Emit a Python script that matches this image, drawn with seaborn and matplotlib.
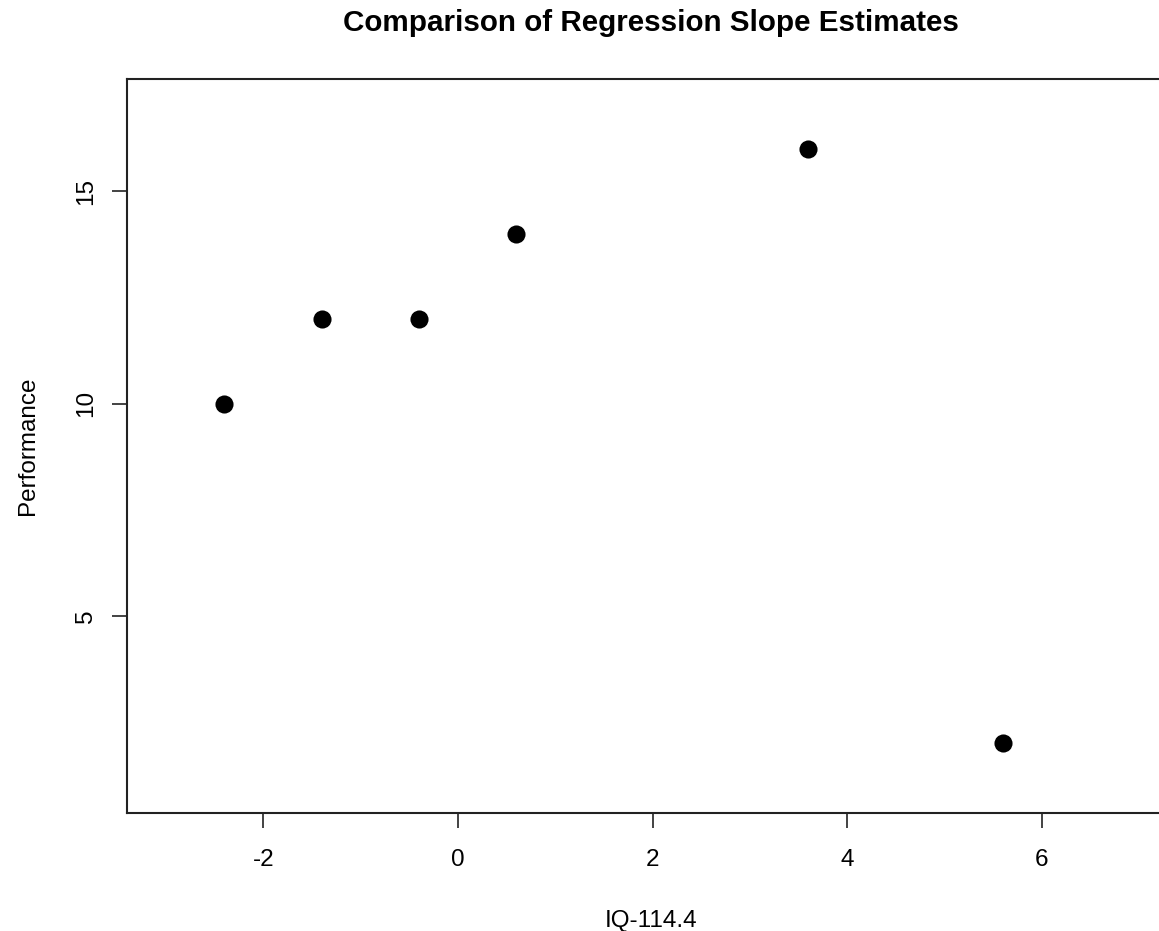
import matplotlib
matplotlib.use("Agg")
import matplotlib.pyplot as plt
import seaborn as sns
import pandas as pd

iq_centered = [-2.4, -1.4, -0.4, 0.6, 3.6, 5.6]
performance = [10, 12, 12, 14, 16, 2]
x_ticks = [-2, 0, 2, 4, 6]
y_ticks = [5, 10, 15]

sns.set_style("white")
plt.rcParams['font.family'] = ['Liberation Sans', 'DejaVu Sans']
plt.rcParams['text.color'] = 'black'
plt.rcParams['axes.labelcolor'] = 'black'
plt.rcParams['xtick.color'] = 'black'
plt.rcParams['ytick.color'] = 'black'

df = pd.DataFrame({"x": iq_centered, "y": performance})

W, H = 1159, 931
fig = plt.figure(figsize=(W / 100, H / 100), dpi=100)
ax = fig.add_axes([127 / W, (H - 813) / H, (1178 - 127) / W, (813 - 79) / H])
sns.scatterplot(data=df, x="x", y="y", ax=ax, color="black", s=170,
                edgecolor="black", linewidth=0, legend=False)
ax.set_xlim(-3.4, 7.4)
ax.set_ylim(0.36, 17.64)
ax.set_xticks(x_ticks)
ax.set_yticks(y_ticks)
fs = 17.5
ax.set_xticklabels([str(t) for t in x_ticks], fontsize=fs)
ax.set_yticklabels([str(t) for t in y_ticks], fontsize=fs, rotation=90, va="center")
ax.tick_params(axis="x", direction="out", length=11, width=1.2, color="#222222",
               pad=15, bottom=True)
ax.tick_params(axis="y", direction="out", length=10.5, width=1.2, color="#222222",
               pad=11, left=True)
for sp in ax.spines.values():
    sp.set_color("#222222")
    sp.set_linewidth(1.5)
ax.set_xlabel("IQ-114.4", fontsize=fs, va="baseline")
ax.xaxis.set_label_coords(651 / W, 1 - 927 / H, transform=fig.transFigure)
ax.set_ylabel("Performance", fontsize=fs, va="baseline")
ax.yaxis.set_label_coords(34 / W, 1 - 446 / H, transform=fig.transFigure)
fig.text(651 / W, 1 - 31 / H, "Comparison of Regression Slope Estimates",
         ha="center", va="baseline", fontsize=21.3, fontweight="bold")
fig.savefig("out.png", dpi=100)
